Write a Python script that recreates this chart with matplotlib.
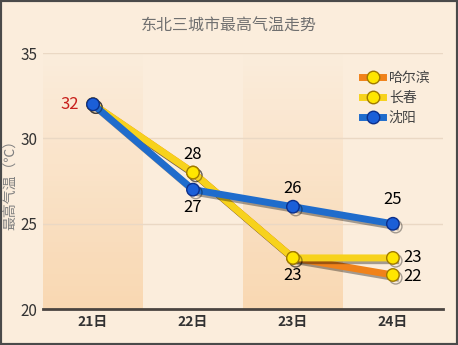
import numpy as np
import matplotlib
matplotlib.use("Agg")
import matplotlib.pyplot as plt
import matplotlib.patheffects as pe
from matplotlib.lines import Line2D
from matplotlib.patches import Rectangle

plt.rcParams["font.family"] = ["Noto Sans CJK SC", "DejaVu Sans"]

days = ["21日", "22日", "23日", "24日"]
harbin = [32, 28, 23, 22]
changchun = [32, 28, 23, 23]
shenyang = [32, 27, 26, 25]

BG = "#fbeddc"
ORANGE = "#f0821a"
YELLOW = "#f7d21c"
BLUE = "#1f6ccc"

fig = plt.figure(figsize=(4.58, 3.45), dpi=100)
fig.patch.set_facecolor(BG)
fig.patches.append(Rectangle((0, 0), 1, 1, transform=fig.transFigure,
                             fill=False, edgecolor="#4a4a4a", linewidth=3))

ax = fig.add_axes([0.094, 0.104, 0.873, 0.742])
ax.set_facecolor(BG)
x = np.arange(len(days))
ax.set_xlim(-0.5, 3.5)
ax.set_ylim(20, 35)

# shaded columns
grad = np.linspace(0, 1, 100).reshape(-1, 1)
cmap = matplotlib.colors.LinearSegmentedColormap.from_list("band", ["#f9d6ae", BG])
for i in (0, 2):
    ax.imshow(grad, extent=(i - 0.5, i + 0.5, 20, 35), aspect="auto",
              cmap=cmap, origin="lower", zorder=0, alpha=0.9)

for yv in (25, 30, 35):
    ax.axhline(yv, color="#ead8c4", lw=1, zorder=1)

shadow = [pe.SimpleLineShadow(offset=(2, -2), alpha=0.35), pe.Normal()]
ax.plot(x, harbin, color=ORANGE, lw=5, marker="o", ms=9, mfc="#ffe600",
        mec="#a07a00", mew=1, zorder=3, path_effects=shadow)
ax.plot(x, changchun, color=YELLOW, lw=5, marker="o", ms=9, mfc="#ffe600",
        mec="#a07a00", mew=1, zorder=4, path_effects=shadow)
ax.plot(x, shenyang, color=BLUE, lw=5, marker="o", ms=9, mfc="#1b5fd8",
        mec="#0c2f8a", mew=1, zorder=5, path_effects=shadow)

fs = 12
ax.text(x[0] - 0.14, shenyang[0], str(shenyang[0]), color="#c8201c", fontsize=fs,
        ha="right", va="center", zorder=6)
ax.text(x[1], changchun[1] + 0.55, str(changchun[1]), fontsize=fs, ha="center", va="bottom", zorder=6)
ax.text(x[1], shenyang[1] - 0.55, str(shenyang[1]), fontsize=fs, ha="center", va="top", zorder=6)
ax.text(x[2], shenyang[2] + 0.55, str(shenyang[2]), fontsize=fs, ha="center", va="bottom", zorder=6)
ax.text(x[2], changchun[2] - 0.55, str(changchun[2]), fontsize=fs, ha="center", va="top", zorder=6)
ax.text(x[3], shenyang[3] + 0.9, str(shenyang[3]), fontsize=fs, ha="center", va="bottom", zorder=6)
ax.text(x[3] + 0.1, changchun[3], str(changchun[3]), fontsize=fs, ha="left", va="center", zorder=6)
ax.text(x[3] + 0.1, harbin[3] - 0.1, str(harbin[3]), fontsize=fs, ha="left", va="center", zorder=6)

ax.set_xticks(x)
ax.set_xticklabels(days, fontsize=10, fontweight="bold", color="#333333")
ax.set_yticks([20, 25, 30, 35])
ax.set_yticklabels(["20", "25", "30", "35"], fontsize=11, style="italic", color="#333333")
ax.tick_params(length=0, pad=4)
for side in ("top", "right", "left"):
    ax.spines[side].set_visible(False)
ax.spines["bottom"].set_color("#4a4440")
ax.spines["bottom"].set_linewidth(2)

ax.set_ylabel("最高气温（℃）", fontsize=10, color="#808080", labelpad=2)
fig.text(0.5, 0.925, "东北三城市最高气温走势", ha="center", va="center",
         fontsize=11.5, color="#707070")

handles = [
    Line2D([], [], color=ORANGE, lw=5, marker="o", ms=9, mfc="#ffe600", mec="#a07a00"),
    Line2D([], [], color=YELLOW, lw=5, marker="o", ms=9, mfc="#ffe600", mec="#a07a00"),
    Line2D([], [], color=BLUE, lw=5, marker="o", ms=9, mfc="#1b5fd8", mec="#0c2f8a"),
]
ax.legend(handles, ["哈尔滨", "长春", "沈阳"], loc="upper right", frameon=False,
          fontsize=10, handlelength=1.5, labelspacing=0.45, handletextpad=0.4,
          bbox_to_anchor=(1.0, 0.98), labelcolor="#444444")

fig.savefig("out.png", dpi=100, facecolor=BG)
